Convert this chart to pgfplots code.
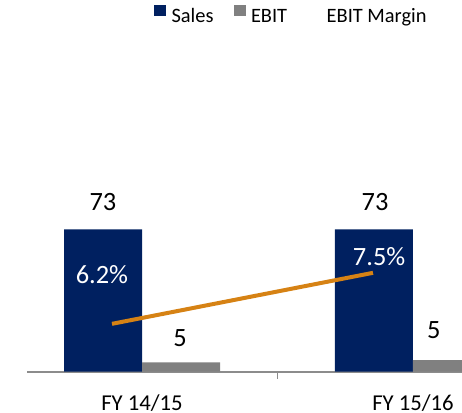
\documentclass[border=0pt]{standalone}
\usepackage{fontspec}
\setmainfont{Carlito}
\usepackage{pgfplots}
\pgfplotsset{compat=1.18}
\definecolor{navy}{RGB}{0,32,96}
\definecolor{ebitgray}{RGB}{128,128,128}
\definecolor{axgray}{RGB}{140,140,140}
\definecolor{marginorange}{RGB}{214,130,20}
\begin{document}
\begin{tikzpicture}
\useasboundingbox (0,0) rectangle (462bp,413bp);
\begin{axis}[
  at={(27bp,41.3bp)}, anchor=south west,
  scale only axis, width=501bp, height=195bp,
  xmin=-0.4244, xmax=1.4244, ymin=0, ymax=100,
  axis x line=bottom, axis y line=none,
  axis line style={-, draw=axgray, line width=2bp},
  xtick={0,1}, xticklabels={FY 14/15, FY 15/16},
  minor xtick={0.5},
  major tick length=0pt, minor tick length=7bp, tick align=outside,
  minor tick style={draw=axgray, line width=1.2bp},
  xticklabel style={anchor=center, inner sep=0pt, yshift=-31.5bp, font=\fontsize{22.8}{26}\selectfont},
  ytick=\empty,
  clip=false,
  legend style={at={(0.2535,1.878)}, anchor=north west, draw=none, fill=none,
    inner sep=0pt, outer sep=0pt, font=\fontsize{20.5}{24}\selectfont,
    nodes={inner sep=0pt},
    /tikz/every odd column/.append style={column sep=5.5bp},
    /tikz/every even column/.append style={column sep=20bp}},
  legend columns=3,
  legend cell align=left,
]
\addplot[ybar, bar width=78bp, bar shift=-39bp, fill=navy, draw=none,
  legend image code/.code={\fill[navy] (0bp,0bp) rectangle (12bp,11bp);}]
  coordinates {(0,73) (1,73)};
\addplot[ybar, bar width=78bp, bar shift=39bp, fill=ebitgray, draw=none,
  legend image code/.code={\fill[ebitgray] (0bp,0bp) rectangle (12bp,11bp);}]
  coordinates {(0,4.8) (1,5.9)};
\addlegendimage{legend image code/.code={\path[draw=none,fill=none] (0bp,0bp) rectangle (14bp,11bp);}}
\legend{Sales, EBIT, EBIT Margin}
\node[font=\fontsize{26.5}{30}\selectfont] at (axis cs:-0.144,87) {73};
\node[font=\fontsize{26.5}{30}\selectfont] at (axis cs:0.860,87) {73};
\node[font=\fontsize{26.5}{30}\selectfont] at (axis cs:0.140,17.3) {5};
\node[font=\fontsize{26.5}{30}\selectfont] at (axis cs:1.077,21.4) {5};
\node[font=\fontsize{26.5}{30}\selectfont, text=white] at (axis cs:-0.148,49.6) {6.2\%};
\node[font=\fontsize{26.5}{30}\selectfont, text=white] at (axis cs:0.875,58.8) {7.5\%};
\end{axis}
\begin{axis}[
  at={(27bp,41.3bp)}, anchor=south west,
  scale only axis, width=501bp, height=195bp,
  xmin=-0.4244, xmax=1.4244, ymin=4.98, ymax=9.95,
  hide axis, clip=false,
]
\addplot[marginorange, line width=4bp] coordinates {(-0.1107,6.2) (0.8524,7.5)};
\end{axis}
\end{tikzpicture}
\end{document}
